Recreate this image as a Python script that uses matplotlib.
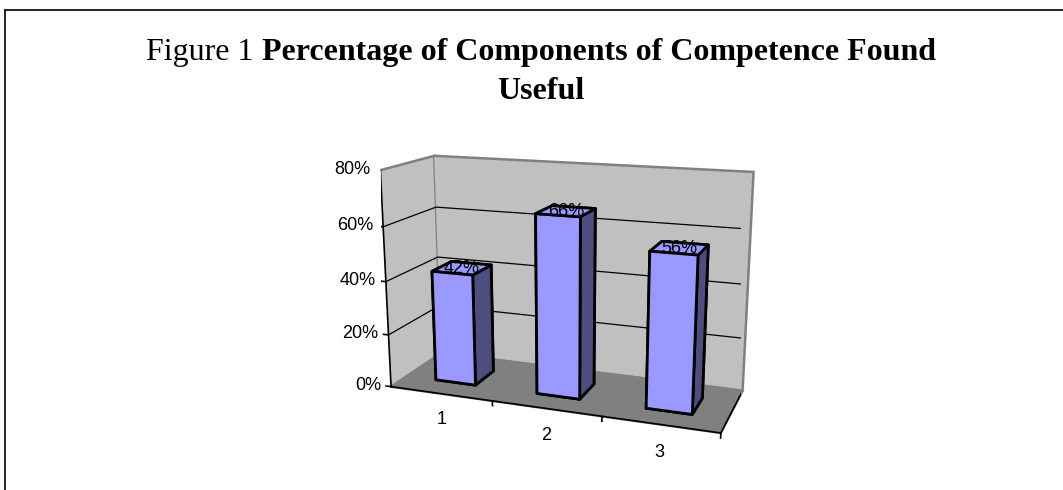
import numpy as np
import matplotlib
matplotlib.use('Agg')
import matplotlib.pyplot as plt
from matplotlib.lines import Line2D

# Datos del gráfico
categorias = ['1', '2', '3']
porcentajes = [42, 66, 56]
etiquetas_barras = ['42%', '66%', '56%']
ticks_eje = [0, 20, 40, 60, 80]
etiquetas_eje = ['0%', '20%', '40%', '60%', '80%']

titulo_normal = 'Figure 1 '
titulo_negrita = 'Percentage of Components of Competence Found'
titulo_linea2 = 'Useful'

ANCHO, ALTO = 1063, 490
COLOR_FRENTE = '#9999FF'
COLOR_LADO = '#4D4D80'
COLOR_PARED = '#C0C0C0'
COLOR_PISO = '#808080'
FUENTE_EJES = 'Liberation Sans'
FUENTE_TITULO = 'Liberation Serif'

fig = plt.figure(figsize=(ANCHO / 100, ALTO / 100), dpi=100)

# Marco exterior: solo el borde superior y el izquierdo
fig.add_artist(Line2D([5 / ANCHO, 5 / ANCHO], [0, 1 - 10 / ALTO], color='black', lw=1.2))
fig.add_artist(Line2D([5 / ANCHO, 1], [1 - 10 / ALTO, 1 - 10 / ALTO], color='black', lw=1.2))

# Título en dos partes (normal + negrita) centrado a mano
renderer = fig.canvas.get_renderer()
centro = 541
t1 = fig.text(0, 1 - 60 / ALTO, titulo_normal, fontsize=23, family=FUENTE_TITULO, va='baseline')
t2 = fig.text(0, 1 - 60 / ALTO, titulo_negrita, fontsize=23, family=FUENTE_TITULO,
              weight='bold', va='baseline')
w1 = t1.get_window_extent(renderer).width
w2 = t2.get_window_extent(renderer).width
x0 = centro - (w1 + w2) / 2
t1.set_x(x0 / ANCHO)
t2.set_x((x0 + w1) / ANCHO)
fig.text(centro / ANCHO, 1 - 99 / ALTO, titulo_linea2, fontsize=23, family=FUENTE_TITULO,
         weight='bold', ha='center', va='baseline')

# Gráfico de columnas 3D
ax = fig.add_axes([321 / ANCHO, 22 / ALTO, 480 / ANCHO, 360 / ALTO], projection='3d',
                  proj_type='persp', focal_length=0.5, computed_zorder=False)
n = len(categorias)
ax.set_xlim(0, n, view_margin=0)
ax.set_ylim(0, 1, view_margin=0)
ax.set_zlim(ticks_eje[0], ticks_eje[-1], view_margin=0)
ax.set_box_aspect((341, 112, 223), zoom=1.15)
ax.view_init(elev=15, azim=-70)
ax.patch.set_alpha(0)
ax.grid(False)

for eje, color in ((ax.xaxis, COLOR_PARED), (ax.yaxis, COLOR_PARED), (ax.zaxis, COLOR_PISO)):
    eje.set_pane_color(color)
    eje.pane.set_edgecolor('#808080')
    eje.pane.set_linewidth(1.8)
    eje.line.set_color((0, 0, 0, 0))
    eje.set_ticks([])
    eje.label.set_visible(False)
    eje.offsetText.set_visible(False)

# Matriz de proyección para colocar los textos en 2D
M = ax.get_proj()


def texto(x, y, z, s, **kw):
    p = M @ np.array([x, y, z, 1.0])
    return ax.text2D(p[0] / p[3], p[1] / p[3], s, transform=ax.transData,
                     fontsize=13, family=FUENTE_EJES, **kw)


# Líneas de división sobre la pared izquierda y la del fondo
for z in ticks_eje[1:-1]:
    ax.plot([0, 0, n], [0, 1, 1], [z, z, z], color='black', lw=0.9, zorder=2)

# Ejes
ax.plot([0, 0], [0, 0], [ticks_eje[0], ticks_eje[-1]], color='black', lw=1.2, zorder=8)
ax.plot([0, n], [0, 0], [0, 0], color='black', lw=1.2, zorder=8)
ax.plot([n, n], [0, 1], [0, 0], color='black', lw=1.2, zorder=8)

for z, txt in zip(ticks_eje, etiquetas_eje):
    ax.plot([0, -0.05], [0, 0], [z, z], color='black', lw=1.2, zorder=8)
    texto(-0.1, 0, z, txt, ha='right', va='center', zorder=9)

for k in range(1, n + 1):
    ax.plot([k, k], [0, 0], [0, -1.8], color='black', lw=1.2, zorder=8)

for i, txt in enumerate(categorias):
    texto(i + 0.5, 0, -10, txt, ha='center', va='center', zorder=9)

# Columnas: caras en orden -z, +z, -y, +y, -x, +x
caras = [COLOR_FRENTE, COLOR_FRENTE, COLOR_FRENTE, COLOR_FRENTE, COLOR_LADO, COLOR_LADO]
posiciones = np.arange(n) + 0.3
for i, v in enumerate(porcentajes):
    ax.bar3d(posiciones[i], 0.3, 0, 0.4, 0.4, v, color=caras, edgecolor='black',
             linewidth=2, shade=False, zorder=5)
    texto(posiciones[i] + 0.2, 0.5, v, etiquetas_barras[i], ha='center', va='center', zorder=10)

fig.savefig('out.png', dpi=100)
